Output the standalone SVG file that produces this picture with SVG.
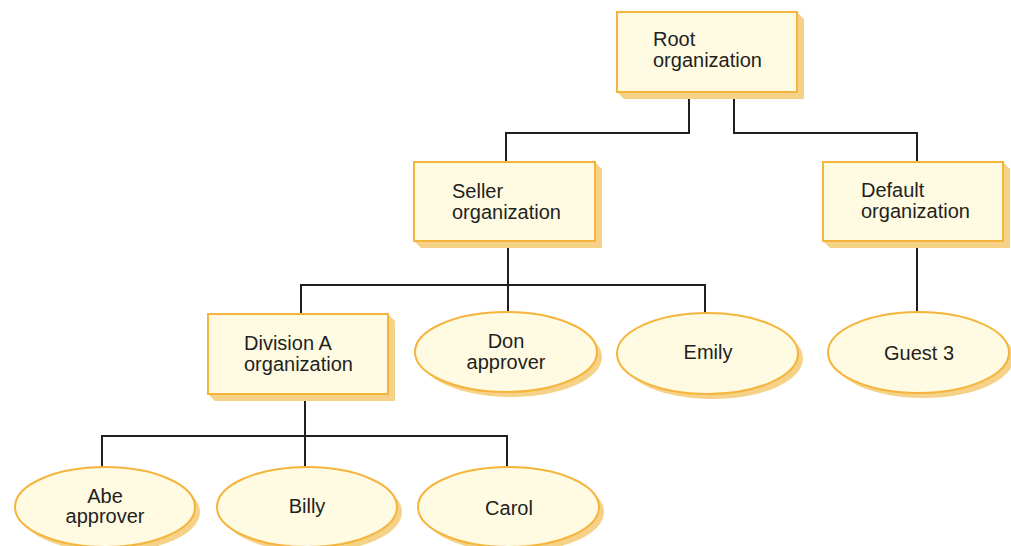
<svg xmlns="http://www.w3.org/2000/svg" width="1011" height="546" viewBox="0 0 1011 546">
<style>
.box{fill:#fffbe3;stroke:#f5b43c;stroke-width:2}
.sh{fill:#f5d287;stroke:none}
.lbl{font-family:"Liberation Sans",Arial,sans-serif;font-size:20px;fill:#231f20}
.mid{text-anchor:middle}
.conn{fill:none;stroke:#231f20;stroke-width:2}
</style>
<rect width="1011" height="546" fill="#ffffff"/>
<g id="connectors" class="conn">
<polyline points="689,92 689,133 506,133 506,162"/>
<polyline points="734,92 734,133 917,133 917,162"/>
<polyline points="508,241 508,312"/>
<polyline points="301,314 301,285 705,285 705,313"/>
<polyline points="917,241 917,312"/>
<polyline points="305,394 305,467"/>
<polyline points="102,467 102,436 507,436 507,467"/>
</g>
<g id="root">
<polygon class="sh" points="797,12 804,19 804,99 624,99 617,92 797,92"/>
<rect class="box" x="617" y="12" width="180" height="80"/>
<text class="lbl" x="653" y="46">Root</text>
<text class="lbl" x="653" y="67">organization</text>
</g>
<g id="seller">
<polygon class="sh" points="595,162 602,169 602,248 421,248 414,241 595,241"/>
<rect class="box" x="414" y="162" width="181" height="79"/>
<text class="lbl" x="452" y="198">Seller</text>
<text class="lbl" x="452" y="219">organization</text>
</g>
<g id="default">
<polygon class="sh" points="1003,162 1010,169 1010,248 830,248 823,241 1003,241"/>
<rect class="box" x="823" y="162" width="180" height="79"/>
<text class="lbl" x="861" y="197">Default</text>
<text class="lbl" x="861" y="218">organization</text>
</g>
<g id="divisionA">
<polygon class="sh" points="388,314 395,321 395,401 215,401 208,394 388,394"/>
<rect class="box" x="208" y="314" width="180" height="80"/>
<text class="lbl" x="244" y="350">Division A</text>
<text class="lbl" x="244" y="371">organization</text>
</g>
<g id="don">
<ellipse class="sh" cx="511" cy="357" rx="91" ry="40"/>
<ellipse class="box" cx="506" cy="352" rx="91" ry="40"/>
<text class="lbl mid" x="506" y="348">Don</text>
<text class="lbl mid" x="506" y="369">approver</text>
</g>
<g id="emily">
<ellipse class="sh" cx="712.5" cy="358.5" rx="90.5" ry="40.5"/>
<ellipse class="box" cx="707.5" cy="353.5" rx="90.5" ry="40.5"/>
<text class="lbl mid" x="708" y="359">Emily</text>
</g>
<g id="guest3">
<ellipse class="sh" cx="923.5" cy="357.5" rx="90.5" ry="40.5"/>
<ellipse class="box" cx="918.5" cy="352.5" rx="90.5" ry="40.5"/>
<text class="lbl mid" x="919" y="360">Guest 3</text>
</g>
<g id="abe">
<ellipse class="sh" cx="110" cy="512" rx="90" ry="40"/>
<ellipse class="box" cx="105" cy="507" rx="90" ry="40"/>
<text class="lbl mid" x="105" y="503">Abe</text>
<text class="lbl mid" x="105" y="523">approver</text>
</g>
<g id="billy">
<ellipse class="sh" cx="312" cy="512" rx="90" ry="40"/>
<ellipse class="box" cx="307" cy="507" rx="90" ry="40"/>
<text class="lbl mid" x="307" y="513">Billy</text>
</g>
<g id="carol">
<ellipse class="sh" cx="513.5" cy="512" rx="90.5" ry="40"/>
<ellipse class="box" cx="508.5" cy="507" rx="90.5" ry="40"/>
<text class="lbl mid" x="509" y="515">Carol</text>
</g>
</svg>
